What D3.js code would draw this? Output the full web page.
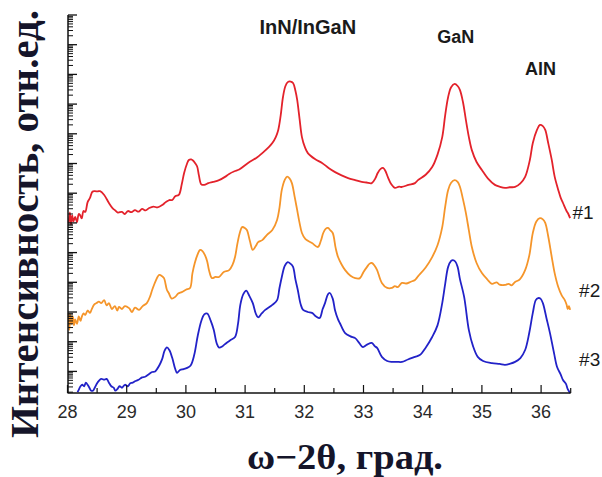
<!DOCTYPE html>
<html><head><meta charset="utf-8">
<script src="https://cdn.jsdelivr.net/npm/d3@7"></script>
<style>html,body{margin:0;padding:0;background:#fff;}svg{display:block;}</style>
</head><body>
<svg id="chart" width="602" height="477"></svg>
<script>
// 2θ (deg) and log10 intensity (arb. units, offset traces)
const xTicks = [28, 29, 30, 31, 32, 33, 34, 35, 36];
const sampleLabels = ["#1", "#2", "#3"];
const peakLabels = [
  {text: "InN/InGaN", x: 32.06, v: 12.35, size: 20},
  {text: "GaN", x: 34.56, v: 12.07, size: 18},
  {text: "AlN", x: 35.99, v: 10.97, size: 18}
];
const sampleLabelPos = [
  {x: 36.71, v: 6.12},
  {x: 36.82, v: 3.52},
  {x: 36.82, v: 1.17}
];
const s1 = [
[28.02,6.00],[28.04,6.35],[28.06,5.95],[28.08,6.25],[28.10,6.05],[28.13,6.20],[28.16,6.03],[28.19,6.30],[28.21,6.27],[28.24,6.15],[28.27,6.40],[28.30,6.37],[28.34,6.70],[28.38,6.84],[28.42,7.05],[28.46,7.07],[28.51,7.06],[28.55,7.07],[28.62,6.94],[28.70,6.67],[28.76,6.50],[28.80,6.43],[28.85,6.35],[28.92,6.37],[28.97,6.30],[29.02,6.40],[29.08,6.36],[29.14,6.43],[29.20,6.38],[29.26,6.47],[29.32,6.42],[29.38,6.50],[29.45,6.55],[29.52,6.52],[29.60,6.60],[29.66,6.70],[29.72,6.77],[29.77,6.77],[29.82,6.90],[29.88,6.94],[29.93,7.30],[29.97,7.68],[30.02,8.00],[30.05,8.12],[30.09,8.14],[30.12,8.10],[30.16,8.00],[30.19,7.90],[30.22,7.60],[30.26,7.30],[30.31,7.28],[30.38,7.34],[30.46,7.38],[30.56,7.44],[30.66,7.55],[30.73,7.65],[30.82,7.74],[30.90,7.80],[31.05,8.02],[31.20,8.20],[31.29,8.35],[31.40,8.55],[31.46,8.69],[31.52,8.90],[31.56,9.13],[31.60,9.60],[31.64,10.24],[31.68,10.60],[31.72,10.74],[31.77,10.76],[31.81,10.71],[31.85,10.45],[31.88,10.14],[31.92,9.50],[31.96,8.89],[32.01,8.55],[32.06,8.35],[32.18,8.15],[32.30,8.02],[32.41,7.85],[32.52,7.71],[32.63,7.60],[32.74,7.51],[32.86,7.44],[32.97,7.38],[33.05,7.36],[33.14,7.34],[33.20,7.50],[33.24,7.68],[33.29,7.82],[33.33,7.85],[33.37,7.75],[33.41,7.55],[33.47,7.30],[33.53,7.18],[33.60,7.22],[33.65,7.21],[33.76,7.28],[33.87,7.34],[33.92,7.44],[34.05,7.62],[34.16,7.88],[34.25,8.30],[34.33,8.89],[34.38,9.63],[34.43,10.24],[34.48,10.57],[34.54,10.68],[34.59,10.61],[34.63,10.47],[34.68,10.07],[34.73,9.46],[34.78,8.89],[34.83,8.45],[34.91,8.05],[35.00,7.78],[35.10,7.50],[35.22,7.28],[35.30,7.22],[35.39,7.18],[35.47,7.20],[35.56,7.21],[35.65,7.33],[35.73,7.55],[35.81,8.12],[35.86,8.69],[35.93,9.13],[35.98,9.30],[36.03,9.26],[36.07,9.13],[36.12,8.69],[36.18,8.12],[36.23,7.55],[36.29,7.11],[36.33,6.85],[36.37,6.67],[36.43,6.40],[36.46,6.30],[36.49,6.16]
];
const s2 = [
[28.02,2.97],[28.03,2.40],[28.05,2.90],[28.07,2.60],[28.09,2.85],[28.11,2.55],[28.13,2.75],[28.16,2.60],[28.19,2.85],[28.22,2.70],[28.24,2.83],[28.27,2.95],[28.30,2.90],[28.34,3.05],[28.38,2.97],[28.41,3.10],[28.45,3.25],[28.49,3.30],[28.53,3.35],[28.57,3.30],[28.62,3.40],[28.66,3.22],[28.70,3.30],[28.75,3.10],[28.80,3.20],[28.84,3.05],[28.87,3.17],[28.92,3.10],[28.97,3.20],[29.04,3.13],[29.09,3.00],[29.14,3.15],[29.21,3.07],[29.27,3.20],[29.34,3.30],[29.40,3.55],[29.43,3.74],[29.49,4.05],[29.55,4.25],[29.60,4.20],[29.63,4.14],[29.68,3.74],[29.71,3.64],[29.76,3.45],[29.82,3.51],[29.87,3.62],[29.93,3.67],[30.00,3.75],[30.07,3.81],[30.11,4.30],[30.15,4.65],[30.20,4.95],[30.24,5.09],[30.28,5.05],[30.32,4.92],[30.36,4.70],[30.39,4.41],[30.44,4.14],[30.50,4.18],[30.56,4.18],[30.64,4.35],[30.73,4.41],[30.79,4.60],[30.83,4.85],[30.87,5.30],[30.91,5.66],[30.95,5.86],[31.00,5.82],[31.03,5.76],[31.08,5.40],[31.13,5.09],[31.18,5.22],[31.22,5.35],[31.29,5.42],[31.37,5.60],[31.46,5.76],[31.54,6.10],[31.58,6.50],[31.62,7.11],[31.67,7.45],[31.71,7.56],[31.75,7.50],[31.79,7.34],[31.84,6.85],[31.88,6.43],[31.92,6.00],[31.96,5.66],[32.02,5.45],[32.13,5.32],[32.23,5.19],[32.28,5.40],[32.32,5.66],[32.36,5.80],[32.40,5.83],[32.44,5.75],[32.48,5.66],[32.53,5.15],[32.57,4.85],[32.63,4.60],[32.69,4.41],[32.78,4.22],[32.86,4.14],[32.94,4.14],[33.00,4.35],[33.06,4.52],[33.10,4.62],[33.14,4.65],[33.19,4.55],[33.23,4.41],[33.31,3.98],[33.40,3.81],[33.48,3.81],[33.53,3.87],[33.58,3.84],[33.65,3.98],[33.72,3.96],[33.80,4.02],[33.87,4.08],[33.92,4.20],[34.05,4.50],[34.16,4.85],[34.25,5.25],[34.33,5.86],[34.38,6.55],[34.43,7.11],[34.48,7.35],[34.54,7.44],[34.59,7.38],[34.63,7.21],[34.68,6.80],[34.73,6.33],[34.78,5.75],[34.83,5.19],[34.91,4.65],[35.00,4.31],[35.09,4.10],[35.17,3.95],[35.25,4.00],[35.30,3.92],[35.39,3.91],[35.45,3.95],[35.50,3.90],[35.56,4.01],[35.64,4.10],[35.73,4.41],[35.80,4.90],[35.86,5.66],[35.92,6.05],[35.98,6.16],[36.03,6.12],[36.07,6.00],[36.12,5.55],[36.18,4.85],[36.23,4.30],[36.29,3.84],[36.35,3.55],[36.40,3.40],[36.43,3.25],[36.45,3.10],[36.47,3.20],[36.49,3.07]
];
const s3 = [
[28.17,0.30],[28.19,0.38],[28.22,0.50],[28.25,0.55],[28.28,0.50],[28.31,0.62],[28.34,0.55],[28.37,0.45],[28.40,0.35],[28.43,0.35],[28.46,0.45],[28.50,0.60],[28.53,0.68],[28.57,0.75],[28.62,0.72],[28.66,0.75],[28.70,0.62],[28.74,0.50],[28.78,0.45],[28.81,0.35],[28.84,0.40],[28.88,0.50],[28.92,0.45],[28.97,0.55],[29.02,0.50],[29.06,0.60],[29.10,0.62],[29.14,0.67],[29.20,0.72],[29.26,0.80],[29.31,0.82],[29.37,0.90],[29.43,0.98],[29.48,1.00],[29.55,1.20],[29.60,1.42],[29.64,1.70],[29.68,1.81],[29.72,1.72],[29.77,1.45],[29.82,1.08],[29.85,0.95],[29.90,1.05],[29.96,1.08],[30.02,1.12],[30.08,1.20],[30.14,1.55],[30.20,2.20],[30.26,2.70],[30.31,2.92],[30.36,2.95],[30.42,2.70],[30.47,2.40],[30.52,1.95],[30.56,1.80],[30.62,1.85],[30.68,1.95],[30.75,2.05],[30.83,2.16],[30.88,2.60],[30.92,3.25],[30.97,3.60],[31.02,3.72],[31.07,3.55],[31.13,3.30],[31.18,2.95],[31.22,2.82],[31.28,2.95],[31.34,3.07],[31.46,3.24],[31.54,3.40],[31.58,3.80],[31.62,4.18],[31.67,4.55],[31.72,4.68],[31.77,4.62],[31.81,4.52],[31.85,4.10],[31.89,3.74],[31.94,3.25],[31.98,3.07],[32.06,3.00],[32.13,2.97],[32.20,2.85],[32.26,2.80],[32.31,3.10],[32.35,3.30],[32.40,3.60],[32.43,3.64],[32.48,3.45],[32.52,3.05],[32.57,2.75],[32.60,2.63],[32.69,2.29],[32.78,2.18],[32.86,2.12],[32.93,1.95],[32.99,1.82],[33.06,1.90],[33.14,1.96],[33.19,1.85],[33.23,1.79],[33.31,1.49],[33.40,1.35],[33.48,1.32],[33.57,1.32],[33.65,1.32],[33.75,1.40],[33.87,1.49],[33.95,1.55],[34.05,1.80],[34.16,2.16],[34.25,2.55],[34.33,3.30],[34.38,3.95],[34.43,4.52],[34.48,4.72],[34.51,4.75],[34.55,4.70],[34.59,4.52],[34.63,4.10],[34.70,3.51],[34.78,2.39],[34.85,1.85],[34.93,1.49],[35.02,1.35],[35.17,1.28],[35.30,1.25],[35.39,1.22],[35.48,1.26],[35.56,1.32],[35.65,1.45],[35.73,1.72],[35.80,2.30],[35.86,2.97],[35.91,3.40],[35.95,3.47],[35.99,3.45],[36.03,3.30],[36.09,2.80],[36.15,2.29],[36.22,1.60],[36.27,1.15],[36.33,0.90],[36.37,0.71],[36.42,0.58],[36.45,0.40],[36.49,0.27]
];
const series = [s1, s2, s3];
const colors = ["#e3222b", "#f5952a", "#2222c8"];

const svg = d3.select("#chart");
const x = d3.scaleLinear().domain([28, 36.5]).range([67.5, 570.7]);
const y = d3.scaleLinear().domain([0.273, 13]).range([393, 15]);

// curves
const line = d3.line().x(d => x(d[0])).y(d => y(d[1])).curve(d3.curveCatmullRom.alpha(0.5));
series.forEach((s, i) => {
  svg.append("path").datum(s).attr("d", line)
    .attr("fill", "none").attr("stroke", colors[i]).attr("stroke-width", 1.8)
    .attr("stroke-linejoin", "round");
});

// bottom axis (ticks inward)
const gx = svg.append("g").attr("transform", "translate(0,393)");
gx.append("line").attr("x1", x(28)).attr("x2", x(36.5)).attr("stroke", "#111").attr("stroke-width", 1.5);
const minorX = d3.range(28.5, 36.6, 1);
gx.selectAll(".mj").data(xTicks).enter().append("line")
  .attr("x1", d => x(d)).attr("x2", d => x(d)).attr("y1", 0).attr("y2", -8)
  .attr("stroke", "#111").attr("stroke-width", 1.2);
gx.selectAll(".mn").data(minorX).enter().append("line")
  .attr("x1", d => x(d)).attr("x2", d => x(d)).attr("y1", 0).attr("y2", -5)
  .attr("stroke", "#111").attr("stroke-width", 1.2);
gx.selectAll("text").data(xTicks).enter().append("text")
  .attr("x", d => x(d)).attr("y", 25).attr("text-anchor", "middle")
  .attr("font-family", "Arial, 'Liberation Sans', sans-serif").attr("font-size", 18)
  .attr("fill", "#2a2a2a").text(d => d);

// left axis, log-style ticks (inward)
const gy = svg.append("g").attr("transform", "translate(68,0)");
gy.append("line").attr("y1", y(13)).attr("y2", 393).attr("stroke", "#111").attr("stroke-width", 1.5);
const majorY = d3.range(1, 14);
const minorY = [];
d3.range(0, 13).forEach(n => { for (let k = 2; k <= 9; k++) { const v = n + Math.log10(k); if (v >= 0.273) minorY.push(v); } });
gy.selectAll(".ymj").data(majorY).enter().append("line")
  .attr("x1", 0).attr("x2", 9).attr("y1", d => y(d)).attr("y2", d => y(d))
  .attr("stroke", "#111").attr("stroke-width", 1.3);
gy.selectAll(".ymn").data(minorY).enter().append("line")
  .attr("x1", 0).attr("x2", 5).attr("y1", d => y(d)).attr("y2", d => y(d))
  .attr("stroke", "#111").attr("stroke-width", 1);

// peak labels
svg.selectAll(".pk").data(peakLabels).enter().append("text")
  .attr("x", d => x(d.x)).attr("y", d => y(d.v)).attr("text-anchor", "middle")
  .attr("font-family", "Arial, 'Liberation Sans', sans-serif").attr("font-weight", "bold")
  .attr("font-size", d => d.size).attr("fill", "#1a1a1a").text(d => d.text);

// sample labels
svg.selectAll(".sl").data(sampleLabels).enter().append("text")
  .attr("x", (d, i) => x(sampleLabelPos[i].x)).attr("y", (d, i) => y(sampleLabelPos[i].v))
  .attr("text-anchor", "middle")
  .attr("font-family", "Arial, 'Liberation Sans', sans-serif")
  .attr("font-size", 19).attr("fill", "#1a1a1a").text(d => d);

// axis titles
svg.append("text").attr("transform", "translate(38,224) rotate(-90)")
  .attr("text-anchor", "middle").attr("font-family", "'Liberation Serif', 'Times New Roman', serif")
  .attr("font-weight", "bold").attr("font-size", 40).attr("fill", "#15152a")
  .attr("textLength", 428).attr("lengthAdjust", "spacingAndGlyphs")
  .text("Интенсивность, отн.ед.");
svg.append("text").attr("x", 345).attr("y", 469)
  .attr("text-anchor", "middle").attr("font-family", "'Liberation Serif', 'Times New Roman', serif")
  .attr("font-weight", "bold").attr("font-size", 36).attr("fill", "#15152a")
  .attr("textLength", 196).attr("lengthAdjust", "spacingAndGlyphs")
  .text("ω−2θ, град.");
</script>
</body></html>
